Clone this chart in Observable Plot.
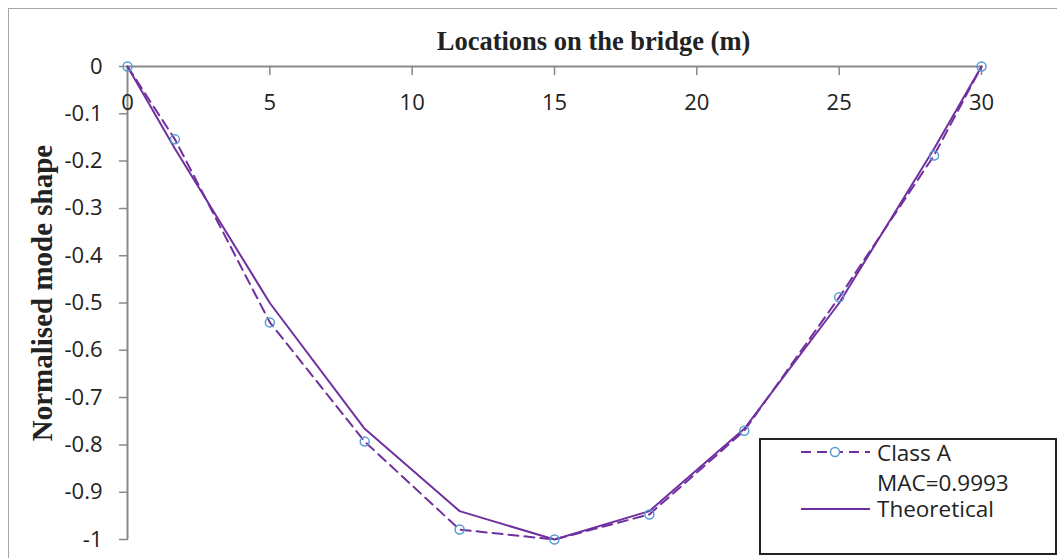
<!DOCTYPE html>
<html>
<head>
<meta charset="utf-8">
<script src="https://cdn.jsdelivr.net/npm/d3@7"></script>
<script src="https://cdn.jsdelivr.net/npm/@observablehq/plot@0.6"></script>
<style>
  html, body { margin: 0; padding: 0; background: white; }
  #wrap { position: relative; width: 1057px; height: 558px; overflow: hidden; background: white; }
  #border { position: absolute; left: 8px; top: 8px; width: 1200px; height: 700px; border: 1.5px solid #a6a6a6; }
  #chart { position: absolute; left: 0; top: 0; }
  #legend { position: absolute; left: 759px; top: 438px; width: 294px; height: 113px; border: 2px solid #222; background: white; font-family: "Open Sans", sans-serif; color: #222; }
  #legend svg { position: absolute; left: 0; top: 0; }
  .lt { position: absolute; left: 116px; font-size: 22.5px; line-height: 1; transform: translateY(-50%); white-space: nowrap; }
</style>
</head>
<body>
<div id="wrap">
  <div id="border"></div>
  <div id="chart"></div>
  <div id="legend"></div>
</div>
<script>
// Sensor locations along the bridge (m)
const locations = [0, 1.667, 5, 8.333, 11.667, 15, 18.333, 21.667, 25, 28.333, 30];
// Measured mode shape (Class A)
const classA = [0, -0.154, -0.541, -0.793, -0.979, -1, -0.947, -0.770, -0.488, -0.188, 0];
// Theoretical mode shape
const theoretical = [0, -0.174, -0.500, -0.766, -0.940, -1, -0.940, -0.766, -0.500, -0.174, 0];
const xTicks = [0, 5, 10, 15, 20, 25, 30];
const yTicks = [0, -0.1, -0.2, -0.3, -0.4, -0.5, -0.6, -0.7, -0.8, -0.9, -1];
const seriesNames = ["Class A", "Theoretical"];
const macLabel = "MAC=0.9993";
const xTitle = "Locations on the bridge (m)";
const yTitle = "Normalised mode shape";

const purple = "#7030A0";
const blue = "#5B9BD5";
const axisGray = "#898989";

const dataA = locations.map((x, i) => ({x, y: classA[i]}));
const dataT = locations.map((x, i) => ({x, y: theoretical[i]}));

const tickShape = { draw(context, l) { context.moveTo(0, 0); context.lineTo(0, -l); } };

const plot = Plot.plot({
  width: 1057,
  height: 558,
  marginLeft: 127,
  marginRight: 76,
  marginTop: 66,
  marginBottom: 19,
  style: { background: "transparent", fontFamily: "Open Sans, sans-serif", overflow: "visible" },
  x: { domain: [0, 30], axis: null },
  y: { domain: [-1, 0], axis: null },
  marks: [
    Plot.ruleY([0], { stroke: axisGray, strokeWidth: 2 }),
    Plot.ruleX([0], { stroke: axisGray, strokeWidth: 2 }),
    Plot.vector(xTicks.slice(1), { x: d => d, y: 0, length: 8, rotate: 180, anchor: "start", shape: tickShape, stroke: axisGray, strokeWidth: 1.5 }),
    Plot.vector(yTicks, { x: 0, y: d => d, length: 8, rotate: 270, anchor: "start", shape: tickShape, stroke: axisGray, strokeWidth: 1.5 }),
    Plot.text(xTicks, { x: d => d, y: 0, dy: 36, text: d => String(d), fontSize: 22, fill: "#222" }),
    Plot.text(yTicks, { x: 0, y: d => d, dx: -25, text: d => String(d), textAnchor: "end", fontSize: 22, fill: "#222" }),
    Plot.text([xTitle], { frameAnchor: "top", textAnchor: "middle", lineAnchor: "middle", dx: 39, dy: -25, fontFamily: "Liberation Serif, serif", fontWeight: "bold", fontSize: 26.5, fill: "#222" }),
    Plot.text([yTitle], { frameAnchor: "left", textAnchor: "middle", lineAnchor: "middle", rotate: -90, dx: -85, dy: -10, fontFamily: "Liberation Serif, serif", fontWeight: "bold", fontSize: 29, fill: "#222" }),
    Plot.line(dataT, { x: "x", y: "y", stroke: purple, strokeWidth: 2 }),
    Plot.line(dataA, { x: "x", y: "y", stroke: purple, strokeWidth: 2, strokeDasharray: "10,6" }),
    Plot.dot(dataA, { x: "x", y: "y", r: 4.5, stroke: blue, fill: "none", strokeWidth: 1.5 })
  ]
});
document.getElementById("chart").appendChild(plot);

// Legend
const legend = document.getElementById("legend");
const ns = "http://www.w3.org/2000/svg";
const lsvg = document.createElementNS(ns, "svg");
lsvg.setAttribute("width", 294); lsvg.setAttribute("height", 113);
lsvg.innerHTML =
  `<line x1="40" x2="109" y1="12" y2="12" stroke="${purple}" stroke-width="2" stroke-dasharray="10,6"/>` +
  `<circle cx="74" cy="12" r="4.5" fill="white" stroke="${blue}" stroke-width="1.5"/>` +
  `<line x1="40" x2="109" y1="69" y2="69" stroke="${purple}" stroke-width="2"/>`;
legend.appendChild(lsvg);
const labels = [[seriesNames[0], 13], [macLabel, 43], [seriesNames[1], 69]];
for (const [t, y] of labels) {
  const d = document.createElement("div");
  d.className = "lt"; d.style.top = y + "px"; d.textContent = t;
  legend.appendChild(d);
}
</script>
</body>
</html>
